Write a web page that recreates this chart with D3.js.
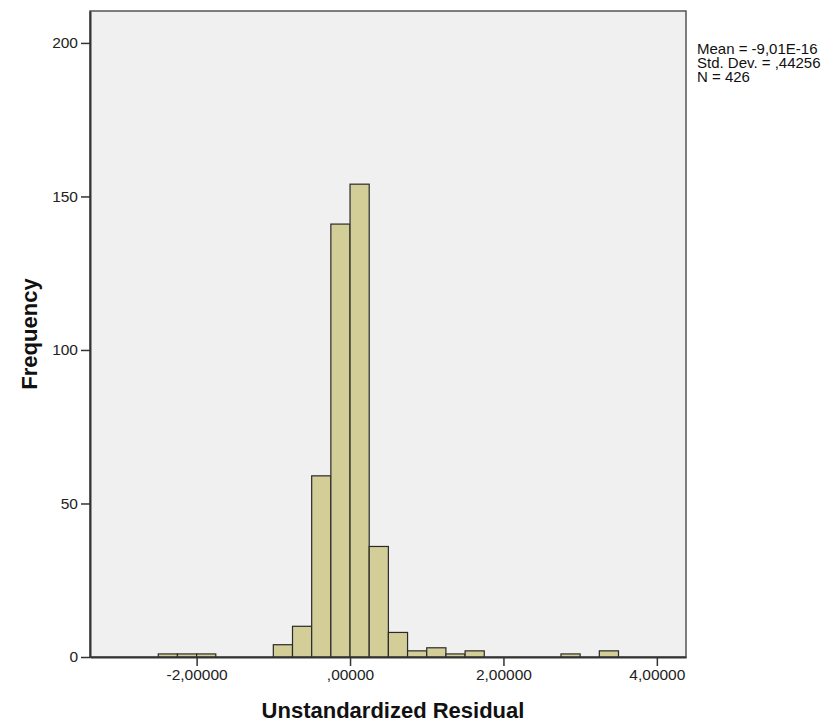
<!DOCTYPE html>
<html>
<head>
<meta charset="utf-8">
<script src="https://cdn.jsdelivr.net/npm/d3@7"></script>
<style>
  body { margin: 0; background: #fff; }
  text { font-family: "Liberation Sans", Arial, sans-serif; }
</style>
</head>
<body>
<svg width="834" height="726"></svg>
<script>
// bin start (width 0.25) and count
var binStarts = [-2.50, -2.25, -2.00, -1.00, -0.75, -0.50, -0.25, 0.00, 0.25, 0.50, 0.75, 1.00, 1.25, 1.50, 2.75, 3.25];
var counts    = [1, 1, 1, 4, 10, 59, 141, 154, 36, 8, 2, 3, 1, 2, 1, 2];
var binWidth = 0.25;
var xTicks = [-2, 0, 2, 4];
var yTicks = [0, 50, 100, 150, 200];
var statLines = ["Mean = -9,01E-16", "Std. Dev. = ,44256", "N = 426"];

var svg = d3.select("svg");
var pLeft = 90, pTop = 11, pRight = 686, pBottom = 657;

var x = d3.scaleLinear().domain([-3.39, 4.38]).range([pLeft, pRight]);
var y = d3.scaleLinear().domain([0, 210.4]).range([pBottom, pTop]);

var fmtX = function(d) {
  var s = d3.format(".5f")(Math.abs(d)).replace(".", ",");
  if (s.charAt(0) == "0") s = s.slice(1);
  return (d < 0 ? "-" : "") + s;
};

// plot background
svg.append("rect")
  .attr("x", pLeft).attr("y", pTop)
  .attr("width", pRight - pLeft).attr("height", pBottom - pTop)
  .attr("fill", "#f0f0f0")
  .attr("stroke", "#555").attr("stroke-width", 1.5);

// bars
svg.append("g").selectAll("rect")
  .data(binStarts)
  .enter().append("rect")
  .attr("x", function(d) { return x(d); })
  .attr("y", function(d, i) { return y(counts[i]); })
  .attr("width", function(d) { return x(d + binWidth) - x(d); })
  .attr("height", function(d, i) { return y(0) - y(counts[i]); })
  .attr("fill", "#d3ce97")
  .attr("stroke", "#2a2a2a")
  .attr("stroke-width", 1.2);

// axes
var xAxis = svg.append("g")
  .attr("transform", "translate(0," + pBottom + ")")
  .call(d3.axisBottom(x).tickValues(xTicks).tickFormat(fmtX).tickSize(9).tickPadding(3).tickSizeOuter(0));
var yAxis = svg.append("g")
  .attr("transform", "translate(" + pLeft + ",0)")
  .call(d3.axisLeft(y).tickValues(yTicks).tickSize(9).tickPadding(3).tickSizeOuter(0));

[xAxis, yAxis].forEach(function(a) {
  a.select(".domain").attr("stroke", "#333").attr("stroke-width", 2);
  a.selectAll(".tick line").attr("stroke", "#333").attr("stroke-width", 1.5);
  a.selectAll(".tick text").attr("fill", "#222").style("font-size", "15.5px");
});

// axis titles
svg.append("text")
  .attr("x", (pLeft + pRight) / 2 + 5).attr("y", 718)
  .attr("text-anchor", "middle")
  .style("font-size", "22px").style("font-weight", "bold")
  .attr("fill", "#111")
  .text("Unstandardized Residual");

svg.append("text")
  .attr("transform", "translate(37," + ((pTop + pBottom) / 2) + ") rotate(-90)")
  .attr("text-anchor", "middle")
  .style("font-size", "22px").style("font-weight", "bold")
  .attr("fill", "#111")
  .text("Frequency");

// stats box
svg.append("g").selectAll("text")
  .data(statLines)
  .enter().append("text")
  .attr("x", 697)
  .attr("y", function(d, i) { return 54 + i * 14; })
  .style("font-size", "15px")
  .attr("fill", "#111")
  .text(function(d) { return d; });
</script>
</body>
</html>
